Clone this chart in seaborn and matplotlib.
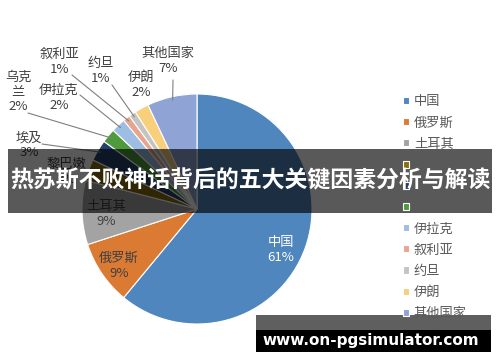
import numpy as np
import matplotlib
matplotlib.use('Agg')
import matplotlib.pyplot as plt
from matplotlib.patches import Rectangle
import seaborn as sns

countries = ['中国', '俄罗斯', '土耳其', '黎巴嫩', '埃及', '乌克兰',
             '伊拉克', '叙利亚', '约旦', '伊朗', '其他国家']
shares = [61, 9, 9, 3, 3, 2, 2, 1, 1, 2, 7]
colors = ['#4f86be', '#db7b33', '#a3a3a3', '#8c6d0c', '#25406b', '#4f9b3c',
          '#9dbde3', '#e8a58e', '#c4c4c4', '#f8d07c', '#8fa3d5']
title = '热苏斯不败神话背后的五大关键因素分析与解读'
site = 'www.on-pgsimulator.com'

W, H = 500, 362
CX, CY, R = 197, 209, 115

# label text position (pixel, y down) and optional leader line start
label_layout = {
    '中国': ((281, 250), None),
    '俄罗斯': ((119, 266), None),
    '土耳其': ((106, 214), None),
    '黎巴嫩': ((66, 172), None),
    '埃及': ((29, 145), (42, 144)),
    '乌克兰': ((18, 92), (28, 113)),
    '伊拉克': ((59, 98), (80, 95)),
    '叙利亚': ((60, 62), (72, 75)),
    '约旦': ((101, 71), (112, 85)),
    '伊朗': ((141, 85), None),
    '其他国家': ((168, 61), (173, 80)),
}
wrap = {'乌克兰': '乌克\n兰'}


def px(x, y):
    return x, H - y


def main():
    sns.set_theme(style='white')
    plt.rcParams['font.family'] = ['Noto Sans CJK SC', 'DejaVu Sans']

    fig = plt.figure(figsize=(W / 100, H / 100), dpi=100)
    ax = fig.add_axes([0, 0, 1, 1])
    wedges, _ = ax.pie(shares, colors=colors, startangle=90, counterclock=False,
                       center=px(CX, CY), radius=R,
                       wedgeprops=dict(edgecolor='white', linewidth=0.8))
    ax.set_xlim(0, W)
    ax.set_ylim(0, H)
    ax.set_aspect('auto')
    ax.axis('off')

    for w, name, val in zip(wedges, countries, shares):
        (lx, ly), start = label_layout[name]
        txt = f'{wrap.get(name, name)}\n{val}%'
        col = 'white' if name == '中国' else '#404040'
        ax.text(*px(lx, ly), txt, ha='center', va='center', fontsize=9.5,
                color=col, linespacing=1.15, zorder=4)
        if start is not None:
            mid = np.deg2rad((w.theta1 + w.theta2) / 2)
            ex = CX + R * 0.97 * np.cos(mid)
            ey = H - CY + R * 0.97 * np.sin(mid)
            sx, sy = px(*start)
            ax.plot([sx, ex], [sy, ey], color='#7f7f7f', lw=0.8, zorder=3)

    leg = ax.legend(wedges, countries, loc='upper left',
                    bbox_to_anchor=(398 / W, 1 - 90 / H), frameon=False,
                    fontsize=9.5, handlelength=0.45, handleheight=0.45,
                    handletextpad=0.35, labelspacing=0.62, borderaxespad=0)
    for t in leg.get_texts():
        t.set_color('#595959')

    # banner overlay
    ax.add_patch(Rectangle(px(8, 213), 484, 64, facecolor='black',
                           alpha=0.65, lw=0, zorder=5))
    ax.text(*px(250, 181), title, ha='center', va='center', color='white',
            fontsize=16.5, fontweight='bold', zorder=6)

    # site watermark
    ax.add_patch(Rectangle(px(256, 330), 235, 15, facecolor='#5f5f5f',
                           lw=0, zorder=5))
    ax.add_patch(Rectangle(px(256, 352), 235, 22, facecolor='black',
                           lw=0, zorder=5))
    ax.text(*px(371, 340), site, ha='center', va='center', color='white',
            fontsize=11, fontweight='bold', family='DejaVu Sans', zorder=6)

    fig.savefig('out.png', dpi=100)


if __name__ == '__main__':
    main()
